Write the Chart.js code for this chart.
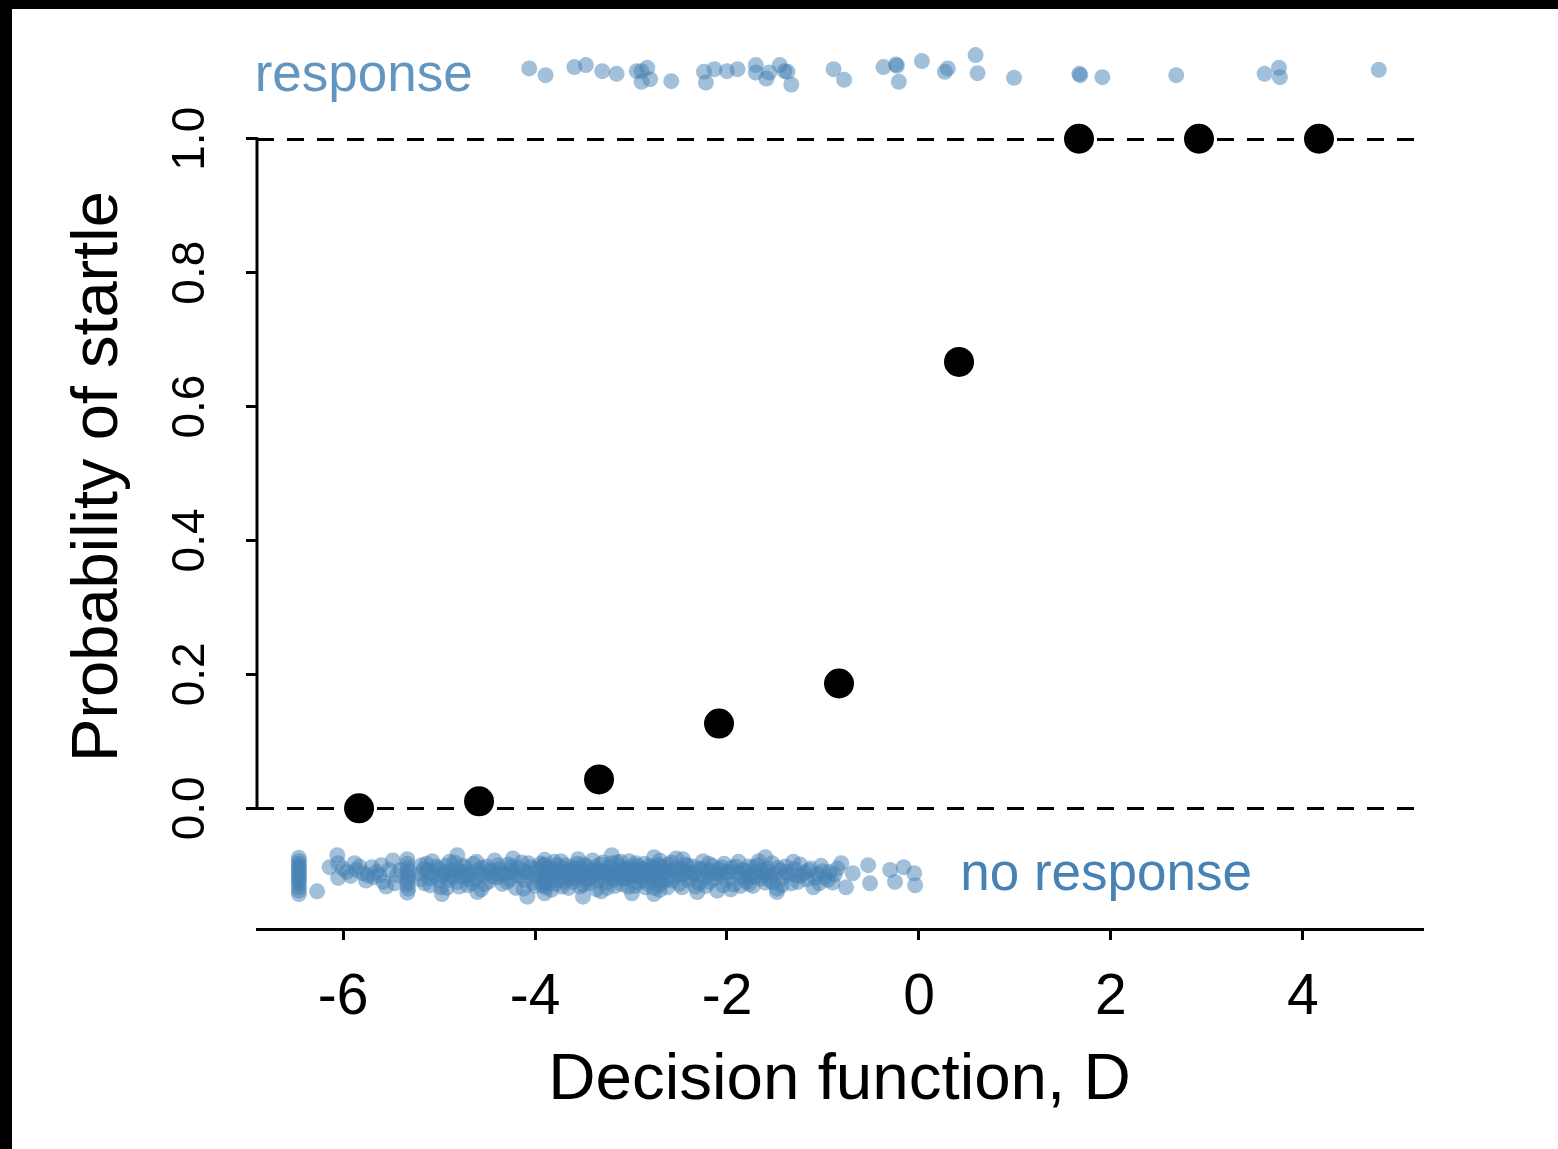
<!DOCTYPE html>
<html>
<head>
<meta charset="utf-8">
<title>Probability of startle vs decision function</title>
<script src="https://cdn.jsdelivr.net/npm/chart.js@4.4.1/dist/chart.umd.min.js"></script>
<style>
  html, body { margin: 0; padding: 0; background: #000; width: 1558px; height: 1149px; overflow: hidden; }
  #wrap { position: absolute; left: 12px; top: 9px; width: 1546px; height: 1140px; background: #fff; }
  canvas { display: block; }
</style>
</head>
<body>
<div id="wrap"><canvas id="c" width="1546" height="1140"></canvas></div>
<script>
// Binned startle probability (bin width 1.25)
const binCenters = [-5.833, -4.583, -3.333, -2.083, -0.833, 0.417, 1.667, 2.917, 4.167];
const binProbability = [0, 0.0104, 0.0431, 0.1266, 0.1864, 0.6667, 1, 1, 1];

// Individual trials that produced a startle: [D, jittered y]
const responsePts = [
  [-4.06, 1.105], [-3.89, 1.095], [-3.59, 1.107], [-3.47, 1.110], [-3.30, 1.101],
  [-3.15, 1.097], [-2.94, 1.101], [-2.89, 1.101], [-2.83, 1.106], [-2.80, 1.089],
  [-2.89, 1.085], [-2.58, 1.086], [-2.24, 1.100], [-2.22, 1.084], [-2.13, 1.104],
  [-2.00, 1.101], [-1.89, 1.104], [-1.70, 1.110], [-1.70, 1.099], [-1.56, 1.099],
  [-1.59, 1.090], [-1.45, 1.110], [-1.40, 1.101], [-1.37, 1.100], [-1.33, 1.081],
  [-0.89, 1.104], [-0.78, 1.088], [-0.37, 1.107], [-0.24, 1.111], [-0.23, 1.109],
  [-0.21, 1.085], [0.03, 1.116], [0.27, 1.100], [0.30, 1.105], [0.59, 1.125],
  [0.61, 1.098], [0.99, 1.091], [1.67, 1.097], [1.68, 1.095], [1.91, 1.092],
  [2.68, 1.095], [3.60, 1.097], [3.75, 1.106], [3.76, 1.092], [4.79, 1.103]
];

// Individual trials without a startle: [D, jittered y]
const noResponsePts = [
  // values clamped at the lower bound
  [-6.46, -0.074], [-6.46, -0.079], [-6.46, -0.083], [-6.46, -0.087], [-6.46, -0.090],
  [-6.46, -0.094], [-6.46, -0.098], [-6.46, -0.101], [-6.46, -0.105], [-6.46, -0.109],
  [-6.46, -0.113], [-6.46, -0.118], [-6.46, -0.123], [-6.46, -0.128],
  [-6.27, -0.124],
  [-6.14, -0.088], [-6.06, -0.070], [-6.05, -0.082], [-6.05, -0.104], [-6.00, -0.090],
  [-5.96, -0.095], [-5.92, -0.101], [-5.88, -0.082], [-5.86, -0.092], [-5.83, -0.087],
  [-5.79, -0.097], [-5.76, -0.108], [-5.74, -0.100], [-5.70, -0.088], [-5.68, -0.103],
  [-5.65, -0.095], [-5.62, -0.100], [-5.60, -0.085], [-5.58, -0.110], [-5.55, -0.117],
  [-5.52, -0.092], [-5.48, -0.078], [-5.46, -0.112], [-5.44, -0.100], [-5.40, -0.092],
  [-5.33, -0.076], [-5.33, -0.083], [-5.33, -0.089], [-5.32, -0.094], [-5.33, -0.099],
  [-5.32, -0.104], [-5.33, -0.109], [-5.33, -0.114], [-5.32, -0.120], [-5.33, -0.126],
  [-5.20, -0.098], [-5.19, -0.106], [-5.18, -0.085], [-5.16, -0.091], [-5.15, -0.112],
  [-5.13, -0.083], [-5.12, -0.093], [-5.10, -0.104], [-5.09, -0.115], [-5.07, -0.079],
  [-5.06, -0.096], [-5.04, -0.101], [-5.03, -0.087], [-5.01, -0.090], [-5.00, -0.108],
  [-4.98, -0.118], [-4.97, -0.128], [-4.96, -0.100], [-4.95, -0.096], [-4.93, -0.086],
  [-4.92, -0.119], [-4.90, -0.107], [-4.89, -0.080], [-4.88, -0.092], [-4.87, -0.099],
  [-4.85, -0.103], [-4.84, -0.081], [-4.82, -0.091], [-4.81, -0.110], [-4.81, -0.070],
  [-4.79, -0.117], [-4.78, -0.094], [-4.76, -0.102], [-4.75, -0.086], [-4.73, -0.088],
  [-4.72, -0.095], [-4.71, -0.101], [-4.70, -0.115], [-4.68, -0.106], [-4.67, -0.097],
  [-4.65, -0.112], [-4.64, -0.083], [-4.62, -0.105], [-4.61, -0.080], [-4.60, -0.125],
  [-4.59, -0.092], [-4.57, -0.098], [-4.56, -0.121], [-4.55, -0.089], [-4.53, -0.100],
  [-4.52, -0.113], [-4.50, -0.087], [-4.48, -0.109], [-4.47, -0.093], [-4.45, -0.095],
  [-4.43, -0.102], [-4.42, -0.078], [-4.40, -0.097], [-4.39, -0.103], [-4.38, -0.085],
  [-4.37, -0.091], [-4.34, -0.113], [-4.33, -0.096], [-4.31, -0.099], [-4.29, -0.110],
  [-4.28, -0.084], [-4.26, -0.106], [-4.25, -0.094], [-4.24, -0.087], [-4.23, -0.096],
  [-4.23, -0.075], [-4.20, -0.119], [-4.19, -0.100], [-4.18, -0.089], [-4.15, -0.101],
  [-4.14, -0.081], [-4.12, -0.093], [-4.12, -0.120], [-4.10, -0.108], [-4.09, -0.096],
  [-4.08, -0.132], [-4.07, -0.082], [-4.05, -0.097], [-4.04, -0.088], [-4.02, -0.111],
  [-4.00, -0.116], [-3.99, -0.090], [-3.97, -0.104],
  [-3.90, -0.077], [-3.90, -0.084], [-3.89, -0.090], [-3.90, -0.095], [-3.89, -0.101],
  [-3.90, -0.106], [-3.90, -0.112], [-3.89, -0.118], [-3.90, -0.127],
  [-3.95, -0.093], [-3.94, -0.083], [-3.93, -0.104], [-3.92, -0.115], [-3.91, -0.086],
  [-3.89, -0.108], [-3.88, -0.099], [-3.87, -0.094], [-3.86, -0.112], [-3.85, -0.097],
  [-3.84, -0.090], [-3.83, -0.122], [-3.82, -0.101], [-3.81, -0.091], [-3.80, -0.080],
  [-3.79, -0.113], [-3.78, -0.096], [-3.77, -0.085], [-3.76, -0.108], [-3.75, -0.101],
  [-3.74, -0.092], [-3.73, -0.079], [-3.72, -0.117], [-3.71, -0.089], [-3.70, -0.100],
  [-3.69, -0.110], [-3.68, -0.085], [-3.67, -0.096], [-3.66, -0.105], [-3.65, -0.119],
  [-3.64, -0.094], [-3.63, -0.100], [-3.62, -0.088], [-3.61, -0.092], [-3.60, -0.110],
  [-3.59, -0.104], [-3.58, -0.098], [-3.57, -0.089], [-3.56, -0.083], [-3.55, -0.076],
  [-3.54, -0.102], [-3.53, -0.117], [-3.52, -0.091], [-3.51, -0.099], [-3.50, -0.114],
  [-3.50, -0.132], [-3.49, -0.084], [-3.48, -0.097], [-3.47, -0.109], [-3.46, -0.087],
  [-3.45, -0.096], [-3.44, -0.106], [-3.43, -0.112], [-3.42, -0.095], [-3.41, -0.103],
  [-3.40, -0.078], [-3.39, -0.092], [-3.38, -0.100], [-3.37, -0.088], [-3.36, -0.121],
  [-3.35, -0.108], [-3.34, -0.093], [-3.33, -0.098], [-3.32, -0.084], [-3.31, -0.124],
  [-3.30, -0.103], [-3.29, -0.081], [-3.28, -0.096], [-3.27, -0.094], [-3.26, -0.111],
  [-3.25, -0.119], [-3.24, -0.089], [-3.23, -0.097], [-3.22, -0.099], [-3.21, -0.105],
  [-3.20, -0.082], [-3.20, -0.070], [-3.19, -0.091], [-3.18, -0.107], [-3.17, -0.116],
  [-3.16, -0.094], [-3.15, -0.081], [-3.14, -0.101], [-3.13, -0.098], [-3.12, -0.087],
  [-3.11, -0.080], [-3.10, -0.113], [-3.09, -0.106], [-3.08, -0.097], [-3.07, -0.103],
  [-3.06, -0.090], [-3.05, -0.094], [-3.04, -0.105], [-3.03, -0.117], [-3.02, -0.079],
  [-3.01, -0.088], [-3.00, -0.099], [-2.99, -0.127], [-2.98, -0.092], [-2.97, -0.101],
  [-2.96, -0.116], [-2.95, -0.082], [-2.94, -0.086], [-2.93, -0.111], [-2.92, -0.102],
  [-2.91, -0.090], [-2.90, -0.095], [-2.89, -0.099], [-2.88, -0.108], [-2.87, -0.091],
  [-2.86, -0.083], [-2.85, -0.118], [-2.84, -0.098], [-2.83, -0.112], [-2.82, -0.091],
  [-2.81, -0.086], [-2.80, -0.104], [-2.79, -0.097], [-2.78, -0.088], [-2.77, -0.108],
  [-2.76, -0.119], [-2.76, -0.073], [-2.76, -0.128], [-2.75, -0.099], [-2.74, -0.096],
  [-2.73, -0.091], [-2.72, -0.085],
  [-2.70, -0.078], [-2.70, -0.086], [-2.70, -0.093], [-2.70, -0.100], [-2.70, -0.107],
  [-2.70, -0.114], [-2.70, -0.122],
  [-2.68, -0.097], [-2.67, -0.110], [-2.65, -0.088], [-2.64, -0.095], [-2.63, -0.106],
  [-2.62, -0.118], [-2.61, -0.084], [-2.60, -0.093], [-2.58, -0.081], [-2.57, -0.108],
  [-2.55, -0.102], [-2.54, -0.091], [-2.53, -0.095], [-2.53, -0.075], [-2.51, -0.099],
  [-2.50, -0.113], [-2.48, -0.090], [-2.47, -0.118], [-2.46, -0.076], [-2.45, -0.099],
  [-2.44, -0.093], [-2.43, -0.084], [-2.41, -0.086], [-2.40, -0.108], [-2.38, -0.096],
  [-2.37, -0.104], [-2.35, -0.087], [-2.34, -0.097], [-2.33, -0.117], [-2.31, -0.125],
  [-2.30, -0.100], [-2.29, -0.112], [-2.28, -0.091], [-2.26, -0.090], [-2.25, -0.079],
  [-2.23, -0.104], [-2.22, -0.116], [-2.20, -0.094], [-2.19, -0.083], [-2.18, -0.110],
  [-2.17, -0.093], [-2.15, -0.086], [-2.14, -0.105], [-2.13, -0.098], [-2.10, -0.123],
  [-2.09, -0.097], [-2.08, -0.092], [-2.06, -0.088], [-2.05, -0.101], [-2.04, -0.115],
  [-2.03, -0.083], [-2.01, -0.095], [-2.00, -0.107], [-1.98, -0.095], [-1.96, -0.121],
  [-1.95, -0.089], [-1.93, -0.114], [-1.91, -0.087], [-1.90, -0.097], [-1.88, -0.080],
  [-1.87, -0.096], [-1.86, -0.116], [-1.85, -0.103], [-1.83, -0.092], [-1.81, -0.094],
  [-1.80, -0.109], [-1.78, -0.087], [-1.77, -0.113], [-1.76, -0.104], [-1.75, -0.099],
  [-1.73, -0.116], [-1.72, -0.088], [-1.71, -0.102], [-1.70, -0.094], [-1.68, -0.085],
  [-1.67, -0.079], [-1.65, -0.105], [-1.64, -0.093], [-1.63, -0.096], [-1.62, -0.100],
  [-1.60, -0.111], [-1.60, -0.073], [-1.58, -0.090], [-1.57, -0.095], [-1.56, -0.107],
  [-1.55, -0.101], [-1.53, -0.082], [-1.52, -0.111], [-1.50, -0.098], [-1.48, -0.120],
  [-1.48, -0.125], [-1.47, -0.089],
  [-1.45, -0.093], [-1.43, -0.115], [-1.42, -0.104], [-1.39, -0.087], [-1.38, -0.095],
  [-1.36, -0.099], [-1.33, -0.112], [-1.31, -0.080], [-1.30, -0.091], [-1.27, -0.101],
  [-1.26, -0.110], [-1.24, -0.084], [-1.22, -0.100], [-1.20, -0.096], [-1.17, -0.106],
  [-1.15, -0.093], [-1.13, -0.090], [-1.10, -0.118], [-1.08, -0.104], [-1.06, -0.098],
  [-1.04, -0.112], [-1.02, -0.086], [-1.00, -0.094], [-0.98, -0.103], [-0.95, -0.107],
  [-0.93, -0.095], [-0.90, -0.111], [-0.88, -0.099], [-0.85, -0.090], [-0.81, -0.082],
  [-0.76, -0.118], [-0.69, -0.097], [-0.53, -0.085], [-0.51, -0.112], [-0.30, -0.092],
  [-0.25, -0.110], [-0.16, -0.088], [-0.05, -0.097], [-0.04, -0.115]
];

// Axis ticks and labels
const xTicks = [-6, -4, -2, 0, 2, 4];
const xTickLabels = ['-6', '-4', '-2', '0', '2', '4'];
const yTicks = [0, 0.2, 0.4, 0.6, 0.8, 1.0];
const yTickLabels = ['0.0', '0.2', '0.4', '0.6', '0.8', '1.0'];
// Horizontal reference levels (no startle / startle)
const refLevels = [0, 1];

const FONT = "'Liberation Sans', Arial, Helvetica, sans-serif";
const BLUE_DOT = 'rgba(70,130,180,0.5)';

// Draws the dashed reference levels, the y-axis line, the rotated y tick labels
// and the two group labels.
const decorations = {
  id: 'decorations',
  beforeDatasetsDraw(chart) {
    const { ctx, chartArea, scales } = chart;
    const x = scales.x, y = scales.y;
    ctx.save();
    ctx.strokeStyle = '#000';
    ctx.lineWidth = 3;
    ctx.setLineDash([17, 13]);
    refLevels.forEach(v => {
      const py = Math.round(y.getPixelForValue(v)) + 0.5;
      ctx.beginPath();
      ctx.moveTo(chartArea.left, py);
      ctx.lineTo(chartArea.right, py);
      ctx.stroke();
    });
    ctx.setLineDash([]);

    // y axis line spans the tick range only
    ctx.lineWidth = 3;
    ctx.beginPath();
    ctx.moveTo(chartArea.left, y.getPixelForValue(yTicks[0]) + 1.5);
    ctx.lineTo(chartArea.left, y.getPixelForValue(yTicks[yTicks.length - 1]) - 1.5);
    ctx.stroke();

    // y tick labels, written parallel to the axis
    ctx.fillStyle = '#000';
    ctx.font = '46px ' + FONT;
    ctx.textAlign = 'center';
    ctx.textBaseline = 'alphabetic';
    yTicks.forEach((v, i) => {
      ctx.save();
      ctx.translate(chartArea.left - 53, y.getPixelForValue(v));
      ctx.rotate(-Math.PI / 2);
      ctx.fillText(yTickLabels[i], 0, 0);
      ctx.restore();
    });

    // group labels
    ctx.font = '53px ' + FONT;
    ctx.textAlign = 'left';
    ctx.fillStyle = 'rgba(70,130,180,0.85)';
    ctx.fillText('response', x.getPixelForValue(-6.92), y.getPixelForValue(1.072));
    ctx.fillStyle = 'rgb(70,130,180)';
    ctx.fillText('no response', x.getPixelForValue(0.43), y.getPixelForValue(-0.122));
    ctx.restore();
  }
};

new Chart(document.getElementById('c'), {
  type: 'scatter',
  data: {
    datasets: [
      {
        label: 'P(startle) per bin',
        data: binCenters.map((c, i) => ({ x: c, y: binProbability[i] })),
        backgroundColor: '#000',
        borderWidth: 0,
        pointRadius: 15,
        order: 0
      },
      {
        label: 'response',
        data: responsePts.map(p => ({ x: p[0], y: p[1] })),
        backgroundColor: BLUE_DOT,
        borderWidth: 0,
        pointRadius: 8,
        order: 1
      },
      {
        label: 'no response',
        data: noResponsePts.map(p => ({ x: p[0], y: p[1] })),
        backgroundColor: BLUE_DOT,
        borderWidth: 0,
        pointRadius: 8,
        order: 2
      }
    ]
  },
  options: {
    responsive: false,
    animation: false,
    devicePixelRatio: 1,
    events: [],
    clip: false,
    layout: { padding: { top: 9, right: 136, left: 0, bottom: 0 } },
    plugins: { legend: { display: false }, tooltip: { enabled: false } },
    scales: {
      x: {
        type: 'linear',
        min: -6.896,
        max: 5.24,
        afterBuildTicks: s => { s.ticks = xTicks.map(v => ({ value: v })); },
        afterFit: s => { s.height = 220; },
        border: { display: true, color: '#000', width: 3 },
        grid: { drawOnChartArea: false, drawTicks: true, tickLength: 11, color: '#000', lineWidth: 3 },
        ticks: {
          color: '#000',
          font: { family: FONT, size: 57, lineHeight: 1 },
          padding: 30,
          maxRotation: 0,
          autoSkip: false,
          callback: (v, i) => xTickLabels[i]
        },
        title: {
          display: true,
          text: 'Decision function, D',
          color: '#000',
          font: { family: FONT, size: 65.5, lineHeight: 1 },
          padding: { top: 0, bottom: 35 }
        }
      },
      y: {
        type: 'linear',
        min: -0.1803,
        max: 1.1714,
        afterBuildTicks: s => { s.ticks = yTicks.map(v => ({ value: v })); },
        afterFit: s => { s.width = 245; },
        border: { display: false },
        grid: { drawOnChartArea: false, drawTicks: true, tickLength: 11, color: '#000', lineWidth: 3 },
        ticks: { display: false },
        title: {
          display: true,
          text: 'Probability of startle',
          color: '#000',
          font: { family: FONT, size: 65, lineHeight: 1 },
          padding: { top: 55, bottom: 0 }
        }
      }
    }
  },
  plugins: [decorations]
});
</script>
</body>
</html>
